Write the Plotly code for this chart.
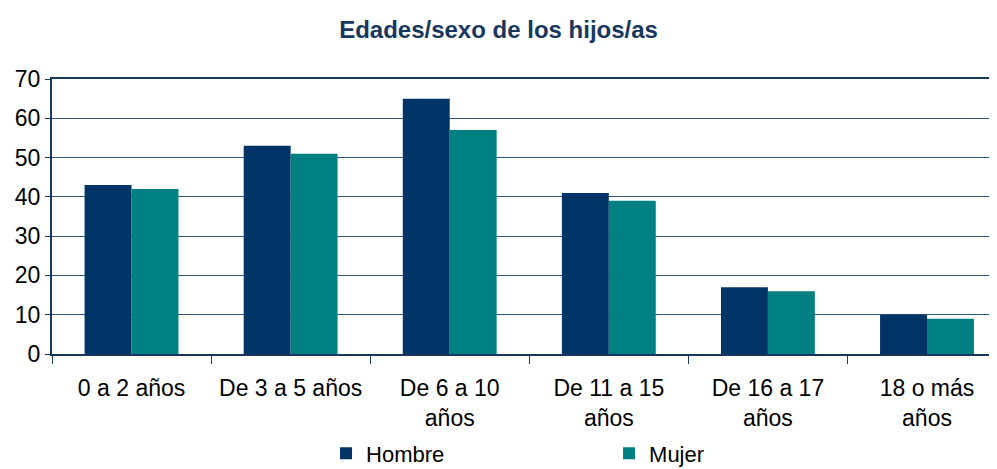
import plotly.graph_objects as go

categories = ["0 a 2 años", "De 3 a 5 años", "De 6 a 10<br>años", "De 11 a 15<br>años", "De 16 a 17<br>años", "18 o más<br>años"]
hombre = [43, 53, 65, 41, 17, 10]
mujer = [42, 51, 57, 39, 16, 9]

fig = go.Figure()
fig.add_bar(name="Hombre", x=categories, y=hombre, marker_color="#003366", marker_line_width=0)
fig.add_bar(name="Mujer", x=categories, y=mujer, marker_color="#008080", marker_line_width=0)

fig.update_layout(
    width=997, height=485,
    margin=dict(l=44, r=8, t=71, b=139),
    paper_bgcolor="white", plot_bgcolor="white",
    font=dict(family="Liberation Sans, Arial, sans-serif", size=23, color="#000000"),
    title=dict(text="<b>Edades/sexo de los hijos/as</b>", x=0.492, xanchor="center", y=1 - 22 / 485, yanchor="middle",
               font=dict(size=24, color="#17375E")),
    barmode="group", bargap=0.41, bargroupgap=0,
    showlegend=True,
    legend=dict(orientation="h", x=0.29, xanchor="left", y=-0.362, yanchor="middle",
                entrywidth=238, entrywidthmode="pixels", font=dict(size=22),
                itemsizing="constant", tracegroupgap=0),
)
fig.update_xaxes(
    range=[-0.5, 5.44], showline=True, mirror=True, linecolor="#17375E", linewidth=2,
    ticks="outside", tickson="boundaries", ticklen=8, tickcolor="#17375E",
    showgrid=False, tickfont=dict(size=23), ticklabelstandoff=12,
)
fig.update_yaxes(
    range=[0, 70], dtick=10, showline=True, linecolor="#17375E", linewidth=2,
    ticks="outside", ticklen=5, tickcolor="#17375E",
    showgrid=True, gridcolor="#2E5580", gridwidth=1, zeroline=False,
    tickfont=dict(size=23),
)
fig.write_html("out.html")
